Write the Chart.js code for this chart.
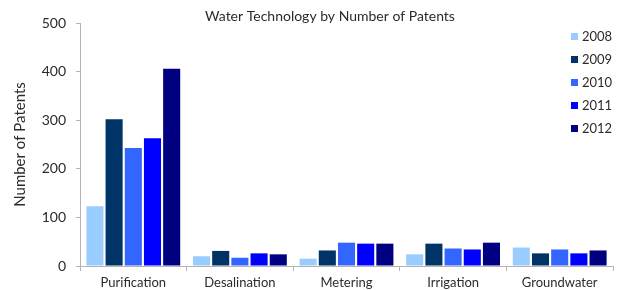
<!DOCTYPE html>
<html>
<head>
<meta charset="utf-8">
<script src="https://cdn.jsdelivr.net/npm/chart.js@4.4.0/dist/chart.umd.min.js"></script>
<style>
  html, body { margin: 0; padding: 0; background: #fff; }
  #wrap { width: 620px; height: 290px; }
</style>
</head>
<body>
<div id="wrap"><canvas id="patents"></canvas></div>
<script>
const categories = ['Purification', 'Desalination', 'Metering', 'Irrigation', 'Groundwater'];
const years = ['2008', '2009', '2010', '2011', '2012'];
const yearColors = ['#99ccff', '#003366', '#3366ff', '#0000ff', '#000080'];
const yTicks = [0, 100, 200, 300, 400, 500];

// patents per category, one list per year
const patents2008 = [123, 20, 15, 24, 38];
const patents2009 = [302, 31, 32, 46, 26];
const patents2010 = [243, 17, 48, 36, 34];
const patents2011 = [263, 26, 46, 34, 26];
const patents2012 = [406, 24, 46, 48, 32];
const seriesValues = [patents2008, patents2009, patents2010, patents2011, patents2012];

const chartTitle = 'Water Technology by Number of Patents';
const axisColor = '#b4b4b4';
const textColor = '#2b2b2b';
const fontFamily = 'Lato, "Open Sans", sans-serif';

// title + legend drawn by hand so they can sit where the original has them
const overlay = {
  id: 'overlay',
  afterDraw(chart) {
    const ctx = chart.ctx;
    ctx.save();
    ctx.fillStyle = textColor;
    ctx.font = '14px ' + fontFamily;
    ctx.textAlign = 'center';
    ctx.textBaseline = 'middle';
    ctx.fillText(chartTitle, 330, 16);

    ctx.font = '13px ' + fontFamily;
    ctx.textAlign = 'left';
    chart.data.datasets.forEach((ds, i) => {
      const y = 37 + i * 23;
      ctx.fillStyle = ds.backgroundColor;
      ctx.fillRect(571, y - 4, 7, 7);
      ctx.fillStyle = textColor;
      ctx.fillText(ds.label, 582, y);
    });
    ctx.restore();
  }
};

new Chart(document.getElementById('patents'), {
  type: 'bar',
  data: {
    labels: categories,
    datasets: years.map((yr, i) => ({
      label: yr,
      data: seriesValues[i],
      backgroundColor: yearColors[i],
      borderWidth: 0,
      barPercentage: 0.89,
      categoryPercentage: 0.9,
    })),
  },
  options: {
    responsive: true,
    maintainAspectRatio: false,
    animation: false,
    layout: { padding: { top: 23, right: 7, left: 0, bottom: 0 } },
    plugins: {
      legend: { display: false },
      title: { display: false },
      tooltip: { enabled: false },
    },
    scales: {
      x: {
        grid: { display: true, drawOnChartArea: false, tickLength: 5, color: axisColor, offset: true },
        border: { display: true, color: axisColor },
        ticks: { color: textColor, font: { family: fontFamily, size: 13 }, padding: 4, maxRotation: 0 },
        afterFit(scale) { scale.height = 24; },
      },
      y: {
        min: 0,
        max: 500,
        afterBuildTicks(scale) { scale.ticks = yTicks.map(v => ({ value: v })); },
        grid: { display: true, drawOnChartArea: false, tickLength: 4, color: axisColor },
        border: { display: true, color: axisColor },
        ticks: { color: textColor, font: { family: fontFamily, size: 14 }, padding: 10 },
        title: {
          display: true,
          text: 'Number of Patents',
          color: textColor,
          font: { family: fontFamily, size: 15 },
          padding: { top: 11, bottom: 6 },
        },
        afterFit(scale) { scale.width = 80; },
      },
    },
  },
  plugins: [overlay],
});
</script>
</body>
</html>
